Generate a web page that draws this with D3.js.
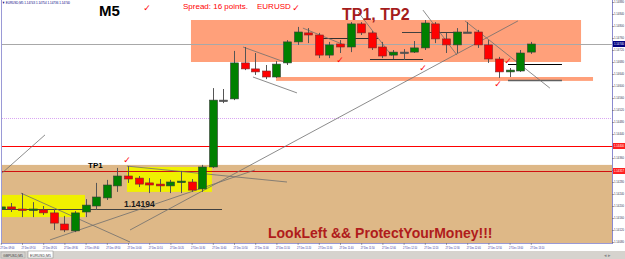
<!DOCTYPE html>
<html>
<head>
<meta charset="utf-8">
<script src="https://cdn.jsdelivr.net/npm/d3@7"></script>
<style>
body { margin: 0; background: #fff; }
#chart { width: 625px; height: 259px; }
text { font-family: Arial, "Liberation Sans", sans-serif; }
</style>
</head>
<body>
<div id="chart"></div>
<script>
// time scale labels (one for every 2nd M5 bar)
const timeLabels = ["27 Dec 09:00","27 Dec 09:10","27 Dec 09:20","27 Dec 09:30","27 Dec 09:40","27 Dec 09:50",
    "27 Dec 10:00","27 Dec 10:10","27 Dec 10:20","27 Dec 10:30","27 Dec 10:40","27 Dec 10:50",
    "27 Dec 11:00","27 Dec 11:10","27 Dec 11:20","27 Dec 11:30","27 Dec 11:40","27 Dec 11:50",
    "27 Dec 12:00","27 Dec 12:10","27 Dec 12:20","27 Dec 12:30","27 Dec 12:40","27 Dec 12:50",
    "27 Dec 13:00","27 Dec 13:10"];

// OHLC of the 51 visible bars
const opens  = [1.14190,1.14197,1.14190,1.14187,1.14187,1.14177,1.14140,1.14117,1.14180,1.14200,
    1.14227,1.14267,1.14300,1.14293,1.14277,1.14273,1.14267,1.14280,1.14280,1.14257,
    1.14330,1.14553,1.14557,1.14677,1.14657,1.14650,1.14630,1.14677,1.14747,1.14777,
    1.14770,1.14703,1.14740,1.14730,1.14807,1.14777,1.14730,1.14703,1.14713,1.14713,
    1.14727,1.14807,1.14757,1.14737,1.14780,1.14780,1.14737,1.14690,1.14647,1.14650,1.14713];
const highs  = [1.14203,1.14210,1.14243,1.14213,1.14200,1.14190,1.14167,1.14183,1.14223,1.14277,
    1.14287,1.14327,1.14333,1.14300,1.14293,1.14290,1.14287,1.14317,1.14290,1.14337,
    1.14593,1.14590,1.14717,1.14730,1.14710,1.14670,1.14683,1.14753,1.14797,1.14793,
    1.14777,1.14747,1.14753,1.14813,1.14813,1.14783,1.14747,1.14720,1.14723,1.14750,
    1.14820,1.14813,1.14777,1.14793,1.14813,1.14787,1.14753,1.14697,1.14660,1.14720,1.14747];
const lows   = [1.14183,1.14180,1.14163,1.14163,1.14170,1.14120,1.14113,1.14113,1.14163,1.14187,
    1.14220,1.14247,1.14277,1.14263,1.14243,1.14247,1.14243,1.14243,1.14247,1.14247,
    1.14327,1.14543,1.14553,1.14653,1.14637,1.14623,1.14627,1.14670,1.14737,1.14743,
    1.14693,1.14693,1.14710,1.14713,1.14770,1.14720,1.14693,1.14690,1.14687,1.14710,
    1.14720,1.14743,1.14710,1.14710,1.14777,1.14727,1.14677,1.14627,1.14630,1.14647,1.14707];
const closes = [1.14197,1.14190,1.14187,1.14190,1.14177,1.14143,1.14120,1.14177,1.14203,1.14230,
    1.14270,1.14300,1.14290,1.14273,1.14270,1.14267,1.14280,1.14283,1.14253,1.14330,
    1.14553,1.14553,1.14677,1.14657,1.14647,1.14630,1.14673,1.14747,1.14780,1.14770,
    1.14703,1.14737,1.14730,1.14807,1.14777,1.14727,1.14700,1.14713,1.14713,1.14727,
    1.14810,1.14757,1.14737,1.14780,1.14780,1.14737,1.14690,1.14647,1.14653,1.14710,1.14740];

const priceTicks = [1.14880,1.14840,1.14800,1.14760,1.14720,1.14680,1.14640,1.14600,1.14560,1.14520,
    1.14480,1.14440,1.14400,1.14360,1.14320,1.14280,1.14240,1.14200,1.14160,1.14120,1.14080];

// rectangles: [fromBar, toBar, topPrice, bottomPrice]
const zoneSupport = [-0.2, 57.8, 1.14337, 1.14050];
const zoneResist  = [17.94, 54.74, 1.14820, 1.14680];
const zoneStrip   = [25.96, 55.87, 1.14630, 1.14617];
const zoneYellowA = [-0.2, 7.94, 1.14237, 1.14163];
const zoneYellowB = [11.9, 19.92, 1.14330, 1.14247];

// full width levels
const levelBid = 1.14740;
const levelRed = [1.14400, 1.14317];
const levelDotted = 1.14493;

// horizontal segments: [fromBar, toBar, price]
const segments = [[-0.2, 20.87, 1.14190], [29.83, 35.58, 1.14760], [37.85, 43.51, 1.14780],
    [34.83, 39.83, 1.14690], [47.85, 52.94, 1.14673], [47.85, 52.94, 1.14620]];

// trend lines: [bar1, price1, bar2, price2]
const trendLines = [[-0.2, 1.14300, 4.17, 1.14437], [1.9, 1.14243, 12.19, 1.14080],
    [4.64, 1.14087, 23.98, 1.14320], [12.19, 1.14120, 48.79, 1.14817],
    [11.9, 1.14333, 27.0, 1.14280], [22.85, 1.14730, 27.0, 1.14677],
    [23.79, 1.14630, 27.94, 1.14577], [28.5, 1.14793, 32.19, 1.14740],
    [33.7, 1.14847, 36.9, 1.14700], [39.83, 1.14853, 43.04, 1.14703],
    [43.79, 1.14817, 51.8, 1.14593]];

// check marks: [bar, price]
const checks = [[13.8, 1.14860], [27.85, 1.14860], [11.9, 1.14353], [32.0, 1.14687],
    [39.83, 1.14660], [46.9, 1.14607], [47.85, 1.14683]];


class CandleChart {

    constructor(parentElement) {
        this.parentElement = parentElement;
        this.data = opens.map((o, i) => ({i: i, o: o, h: highs[i], l: lows[i], c: closes[i]}));
    }

    initVis() {
        let vis = this;

        vis.width = 625;
        vis.height = 259;
        vis.plotRight = 612;
        vis.plotBottom = 243;

        vis.svg = d3.select("#" + vis.parentElement).append("svg")
            .attr("width", vis.width)
            .attr("height", vis.height);

        vis.svg.append("rect").attr("width", vis.width).attr("height", vis.height).attr("fill", "#fff");

        vis.svg.append("defs").append("clipPath")
            .attr("id", "clip")
            .append("rect")
            .attr("x", 2).attr("y", 0)
            .attr("width", vis.plotRight - 2)
            .attr("height", vis.plotBottom);

        // scales
        vis.x = d3.scaleLinear().domain([0, 50]).range([0.8, 530.8]);
        vis.y = d3.scaleLinear().domain([1.14080, 1.14880]).range([242, 2]);

        vis.plot = vis.svg.append("g").attr("clip-path", "url(#clip)");

        vis.updateVis();
    }

    drawZone(z, color) {
        let vis = this;
        vis.plot.append("rect")
            .attr("x", vis.x(z[0]))
            .attr("y", vis.y(z[2]))
            .attr("width", vis.x(z[1]) - vis.x(z[0]))
            .attr("height", vis.y(z[3]) - vis.y(z[2]))
            .attr("fill", color);
    }

    hLine(p, color, w, dash) {
        let vis = this;
        vis.plot.append("line")
            .attr("x1", 0).attr("x2", vis.plotRight)
            .attr("y1", Math.round(vis.y(p)) + 0.5).attr("y2", Math.round(vis.y(p)) + 0.5)
            .attr("stroke", color).attr("stroke-width", w)
            .attr("stroke-dasharray", dash || null);
    }

    updateVis() {
        let vis = this;

        // background objects
        vis.drawZone(zoneSupport, "#deb887");
        vis.drawZone(zoneResist, "#ffa07a");
        vis.drawZone(zoneStrip, "#ffa07a");
        vis.drawZone(zoneYellowA, "#f0f000");
        vis.drawZone(zoneYellowB, "#f0f000");

        vis.hLine(levelBid, "#a8a8a8", 1);
        vis.hLine(levelDotted, "#d9a6f2", 1, "1,1");
        vis.hLine(levelRed[0], "#ff0000", 1);
        vis.hLine(levelRed[1], "#d01010", 1);

        let segColors = ["#404040", "#303030", "#404040", "#303030", "#000000", "#606060"];
        vis.plot.selectAll(".seg")
            .data(segments)
            .enter().append("line")
            .attr("class", "seg")
            .attr("x1", d => vis.x(d[0]))
            .attr("x2", d => vis.x(d[1]))
            .attr("y1", d => Math.round(vis.y(d[2])) + 0.5)
            .attr("y2", d => Math.round(vis.y(d[2])) + 0.5)
            .attr("stroke", (d, i) => segColors[i])
            .attr("stroke-width", (d, i) => i === 5 ? 1.5 : 1);

        vis.plot.selectAll(".trend")
            .data(trendLines)
            .enter().append("line")
            .attr("class", "trend")
            .attr("x1", d => vis.x(d[0]))
            .attr("y1", d => vis.y(d[1]))
            .attr("x2", d => vis.x(d[2]))
            .attr("y2", d => vis.y(d[3]))
            .attr("stroke", "#6e6e6e")
            .attr("stroke-width", 0.8);

        // candles
        let bars = vis.plot.selectAll(".bar")
            .data(vis.data)
            .enter().append("g")
            .attr("class", "bar");

        bars.append("line")
            .attr("x1", d => Math.round(vis.x(d.i)) + 0.5)
            .attr("x2", d => Math.round(vis.x(d.i)) + 0.5)
            .attr("y1", d => vis.y(d.h))
            .attr("y2", d => vis.y(d.l))
            .attr("stroke", "#555")
            .attr("stroke-width", 1);

        bars.append("rect")
            .attr("x", d => Math.round(vis.x(d.i)) - 3.5)
            .attr("y", d => vis.y(Math.max(d.o, d.c)))
            .attr("width", 8)
            .attr("height", d => Math.max(1.5, Math.abs(vis.y(d.o) - vis.y(d.c))))
            .attr("fill", d => d.c > d.o ? "#008000" : (d.c < d.o ? "#ff0000" : "#505050"))
            .attr("stroke", d => d.c > d.o ? "#3a3a3a" : (d.c < d.o ? "#7a2a2a" : "#505050"))
            .attr("stroke-width", 0.6);

        // check marks
        vis.plot.selectAll(".check")
            .data(checks)
            .enter().append("text")
            .attr("class", "check")
            .attr("x", d => vis.x(d[0]))
            .attr("y", d => vis.y(d[1]) + 3)
            .attr("text-anchor", "middle")
            .style("font-family", "DejaVu Sans")
            .style("font-size", "9px")
            .style("fill", "#ff0000")
            .text("\u2713");

        // text objects
        vis.svg.append("text").attr("x", 99).attr("y", 16)
            .style("font-size", "15px").style("font-weight", "bold").style("fill", "#000").text("M5");
        vis.svg.append("text").attr("x", 183).attr("y", 9)
            .style("font-size", "8px").style("fill", "#ff0000").text("Spread: 16 points.");
        vis.svg.append("text").attr("x", 257).attr("y", 9)
            .style("font-size", "8px").style("fill", "#ff0000").text("EURUSD");
        vis.svg.append("text").attr("x", 342).attr("y", 20)
            .style("font-size", "16px").style("font-weight", "bold").style("fill", "#a51c1c").text("TP1, TP2");
        vis.svg.append("text").attr("x", 88).attr("y", 168)
            .style("font-size", "8px").style("font-weight", "bold").style("fill", "#000").text("TP1");
        vis.svg.append("text").attr("x", 124).attr("y", 207)
            .style("font-size", "8.5px").style("font-weight", "bold").style("fill", "#1a1a1a").text("1.14194");
        vis.svg.append("text").attr("x", 268).attr("y", 238)
            .style("font-size", "14px").style("font-weight", "bold").style("fill", "#b01c1c")
            .text("LookLeft && ProtectYourMoney!!!");

        vis.svg.append("text").attr("x", 2).attr("y", 4)
            .attr("textLength", 68).attr("lengthAdjust", "spacingAndGlyphs")
            .style("font-size", "4px").style("fill", "#000080")
            .text("\u25BC EURUSD,M5  1.14743 1.14754 1.14736 1.14740");

        // borders
        vis.svg.append("line").attr("x1", 1.5).attr("x2", 1.5).attr("y1", 0).attr("y2", vis.plotBottom)
            .attr("stroke", "#9a9ad6");
        vis.svg.append("line").attr("x1", 1).attr("x2", vis.plotRight).attr("y1", vis.plotBottom + 0.5).attr("y2", vis.plotBottom + 0.5)
            .attr("stroke", "#9a9ad6");
        vis.svg.append("line").attr("x1", vis.plotRight + 0.5).attr("x2", vis.plotRight + 0.5).attr("y1", 0).attr("y2", vis.plotBottom + 1)
            .attr("stroke", "#8a8ad0");

        // price axis
        vis.yAxis = d3.axisRight(vis.y)
            .tickValues(priceTicks)
            .tickSize(1)
            .tickPadding(0.5)
            .tickFormat(d3.format(".5f"));

        let ya = vis.svg.append("g")
            .attr("class", "y-axis")
            .attr("transform", "translate(" + (vis.plotRight + 0.5) + ",0)")
            .call(vis.yAxis);
        ya.select(".domain").remove();
        ya.selectAll("line").attr("stroke", "#555");
        ya.selectAll("text")
            .attr("textLength", 10).attr("lengthAdjust", "spacingAndGlyphs")
            .style("font-size", "3px").style("fill", "#303050");

        // highlighted price labels
        let marks = [[levelBid, "#000080"], [levelRed[0], "#ff2020"], [levelRed[1], "#ff2020"]];
        marks.forEach(m => {
            let yy = Math.round(vis.y(m[0]));
            vis.svg.append("rect").attr("x", vis.plotRight + 1).attr("y", yy - 3)
                .attr("width", 12).attr("height", 6).attr("fill", m[1]);
            vis.svg.append("text").attr("x", vis.plotRight + 2).attr("y", yy + 1.2)
                .attr("textLength", 10).attr("lengthAdjust", "spacingAndGlyphs")
                .style("font-size", "3px").style("fill", "#fff").text(d3.format(".5f")(m[0]));
        });

        // time axis
        vis.xAxis = d3.axisBottom(vis.x)
            .tickValues(d3.range(0, 51, 2))
            .tickSize(1)
            .tickFormat((d, i) => timeLabels[i]);

        let xa = vis.svg.append("g")
            .attr("class", "x-axis")
            .attr("transform", "translate(0," + (vis.plotBottom + 0.5) + ")")
            .call(vis.xAxis);
        xa.select(".domain").remove();
        xa.selectAll("line").attr("stroke", "#555");
        xa.selectAll("text")
            .attr("text-anchor", "start")
            .attr("dx", -1)
            .attr("y", 3)
            .attr("textLength", 14).attr("lengthAdjust", "spacingAndGlyphs")
            .style("font-size", "3.5px")
            .style("fill", "#2a2aa0");

        // symbol tabs
        vis.svg.append("rect").attr("x", 0).attr("y", 251).attr("width", vis.width).attr("height", 8).attr("fill", "#d6d3ce");
        vis.svg.append("rect").attr("x", 1).attr("y", 252).attr("width", 24).attr("height", 6)
            .attr("fill", "#d6d3ce").attr("stroke", "#a0a0a0").attr("stroke-width", 0.5);
        vis.svg.append("rect").attr("x", 28).attr("y", 251).attr("width", 25).attr("height", 7)
            .attr("fill", "#fff").attr("stroke", "#808080").attr("stroke-width", 0.5);
        vis.svg.append("text").attr("x", 3).attr("y", 256.5)
            .attr("textLength", 20).attr("lengthAdjust", "spacingAndGlyphs")
            .style("font-size", "4px").style("fill", "#333").text("GBPUSD,M5");
        vis.svg.append("text").attr("x", 30).attr("y", 256.5)
            .attr("textLength", 21).attr("lengthAdjust", "spacingAndGlyphs")
            .style("font-size", "4px").style("fill", "#333").text("EURUSD,M5");
        vis.svg.append("text").attr("x", 604).attr("y", 257).style("font-size", "5px").style("fill", "#888").text("\u25C2  \u25B8");
    }
}

let chart = new CandleChart("chart");
chart.initVis();
</script>
</body>
</html>
